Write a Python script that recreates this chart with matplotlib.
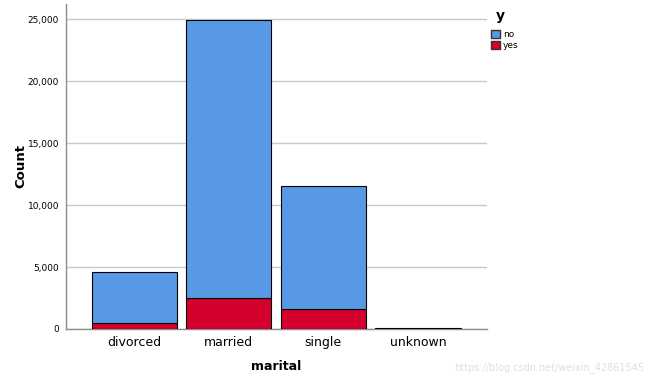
import numpy as np
import matplotlib
matplotlib.use("Agg")
import matplotlib.pyplot as plt
from matplotlib.ticker import FuncFormatter
from matplotlib.patches import Patch

# marital status counts split by y
categories = ["divorced", "married", "single", "unknown"]
count_no = [4136, 22396, 9948, 68]
count_yes = [476, 2532, 1620, 12]
y_ticks = [0, 5000, 10000, 15000, 20000, 25000]

c_no = "#5799e4"
c_yes = "#d6002e"

fig = plt.figure(figsize=(6.5, 3.83), dpi=100)
ax = fig.add_axes([66/650, 1-329/383, (487-66)/650, (329-4)/383])

x = np.arange(len(categories))
ax.bar(x, count_yes, width=0.9, color=c_yes, edgecolor="black", linewidth=0.8, zorder=3)
ax.bar(x, count_no, width=0.9, bottom=count_yes, color=c_no, edgecolor="black",
       linewidth=0.8, zorder=3)

ax.set_xlim(-0.72, 3.73)
ax.set_ylim(0, 26250)
ax.set_yticks(y_ticks)
ax.yaxis.set_major_formatter(FuncFormatter(lambda v, p: f"{int(v):,}"))
ax.set_xticks(x)
ax.set_xticklabels(categories, fontsize=9)
ax.tick_params(axis="y", labelsize=6.5, length=0, pad=5)
ax.tick_params(axis="x", length=0, pad=5)
ax.grid(axis="y", color="#c8c8c8", linewidth=1, zorder=0)

for s in ["top", "right"]:
    ax.spines[s].set_visible(False)
for s in ["left", "bottom"]:
    ax.spines[s].set_color("#8c8c8c")
    ax.spines[s].set_linewidth(1)

ax.set_ylabel("Count", fontsize=9.5, fontweight="bold", labelpad=0)
ax.set_xlabel("marital", fontsize=9, fontweight="bold", labelpad=8)

# legend
fig.text(500/650, 1-16/383, "y", ha="center", va="center", fontsize=10,
         fontweight="bold")
handles = [Patch(facecolor=c_no, edgecolor="#333333", label="no"),
           Patch(facecolor=c_yes, edgecolor="#333333", label="yes")]
fig.legend(handles=handles, loc="upper left",
           bbox_to_anchor=(485/650, 1-24/383), frameon=False, fontsize=6.5,
           handlelength=1.0, handleheight=1.0, handletextpad=0.3,
           labelspacing=0.2, borderpad=0.2)

fig.text(644/650, 1-368/383, "https://blog.csdn.net/weixin_42861545", ha="right",
         va="center", fontsize=7, color="#e0e0e0")

fig.savefig("out.png", dpi=100)
